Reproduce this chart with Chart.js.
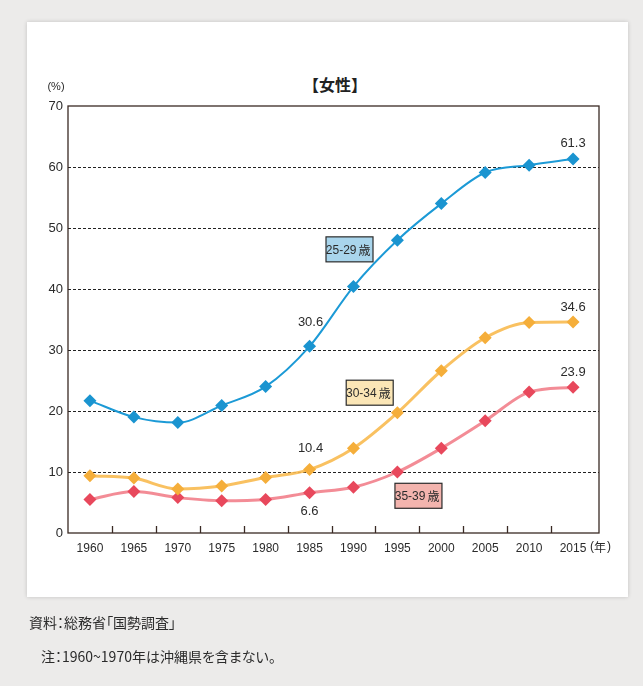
<!DOCTYPE html>
<html>
<head>
<meta charset="utf-8">
<script src="https://cdn.jsdelivr.net/npm/chart.js@4/dist/chart.umd.min.js"></script>
<style>
  body {
    margin: 0;
    width: 643px;
    height: 686px;
    overflow: hidden;
    background: #ecebea;
    font-family: "Noto Sans CJK JP", sans-serif;
    color: #2b2b2b;
  }
  #card {
    position: absolute;
    left: 27px;
    top: 22px;
    width: 601px;
    height: 575px;
    background: #fff;
    box-shadow: 0 0 4px rgba(0, 0, 0, 0.18);
  }
  #title {
    position: absolute;
    left: 0;
    width: 670px;
    top: 72px;
    text-align: center;
    font-size: 16px;
    font-weight: bold;
    color: #222;
  }
  #chart {
    position: absolute;
    left: 0;
    top: 0;
  }
  .note {
    position: absolute;
    font-size: 14px;
    color: #2b2b2b;
  }
</style>
</head>
<body>
<div id="card"></div>
<div id="title">【女性】</div>
<canvas id="chart" width="643" height="686"></canvas>
<div class="note" style="left:29px; top:612px; font-feature-settings:'palt';">資料：総務省「国勢調査」</div>
<div class="note" style="left:41px; top:646px; font-feature-settings:'palt';">注：1960~1970年は沖縄県を含まない。</div>

<script>
// unmarried rate of women by age group (%)
const years = ["1960", "1965", "1970", "1975", "1980", "1985", "1990", "1995", "2000", "2005", "2010", "2015"];
const age2529 = [21.7, 19.0, 18.1, 20.9, 24.0, 30.6, 40.4, 48.0, 54.0, 59.1, 60.3, 61.3];
const age3034 = [9.4, 9.0, 7.2, 7.7, 9.1, 10.4, 13.9, 19.7, 26.6, 32.0, 34.5, 34.6];
const age3539 = [5.5, 6.8, 5.8, 5.3, 5.5, 6.6, 7.5, 10.0, 13.9, 18.4, 23.1, 23.9];
const yTicks = [0, 10, 20, 30, 40, 50, 60, 70];

const numFont = "'Liberation Sans', Arial, sans-serif";
const jpFont = "'Noto Sans CJK JP', sans-serif";

// the frame runs a little past the last category
const frameExtra = 4;

// value labels: [dataset, point, dx, dy]
const valueLabels = [
  [0, 11, 0, -16],
  [0, 5, 1, -24],
  [1, 11, 0, -15],
  [1, 5, 1, -21],
  [2, 11, 0, -15],
  [2, 5, 0, 19]
];

// series name boxes placed in data coordinates (x = category index)
const seriesBoxes = [
  { text: "25-29 歳", x: 5.91, y: 46.5, fill: "#a9d5ec" },
  { text: "30-34 歳", x: 6.37, y: 23.0, fill: "#fbe6b6" },
  { text: "35-39 歳", x: 7.48, y: 6.1, fill: "#f3b4ae" }
];

const framePlugin = {
  id: "frame",
  beforeDatasetsDraw(chart) {
    const { ctx, chartArea: a, scales } = chart;
    const y = scales.y;
    const x = scales.x;
    const right = a.right + frameExtra;
    ctx.save();
    // dashed horizontal grid
    ctx.strokeStyle = "#222";
    ctx.lineWidth = 1;
    ctx.setLineDash([3, 2]);
    yTicks.forEach((v) => {
      if (v === 0 || v === 70) return;
      const py = Math.round(y.getPixelForValue(v)) + 0.5;
      ctx.beginPath();
      ctx.moveTo(a.left, py);
      ctx.lineTo(right, py);
      ctx.stroke();
    });
    ctx.setLineDash([]);
    // plot frame
    ctx.strokeStyle = "#3a2a24";
    ctx.lineWidth = 1.3;
    ctx.strokeRect(a.left, a.top, right - a.left, a.bottom - a.top);
    // short ticks between years, pointing inward
    for (let i = 0; i < years.length - 1; i++) {
      const px = Math.round((x.getPixelForValue(i) + x.getPixelForValue(i + 1)) / 2) + 0.5;
      ctx.beginPath();
      ctx.moveTo(px, a.bottom);
      ctx.lineTo(px, a.bottom - 7);
      ctx.stroke();
    }
    ctx.restore();
  },
  afterDatasetsDraw(chart) {
    const { ctx, chartArea: a, scales } = chart;
    ctx.save();
    ctx.textAlign = "center";
    ctx.textBaseline = "middle";
    ctx.fillStyle = "#2b2b2b";
    ctx.font = "13px " + numFont;
    valueLabels.forEach(([d, i, dx, dy]) => {
      const pt = chart.getDatasetMeta(d).data[i];
      const v = chart.data.datasets[d].data[i];
      ctx.fillText(v.toFixed(1), pt.x + dx, pt.y + dy);
    });

    // series name boxes
    seriesBoxes.forEach((b) => {
      const cx = scales.x.getPixelForValue(b.x);
      const cy = scales.y.getPixelForValue(b.y);
      const w = 47, h = 25;
      ctx.fillStyle = b.fill;
      ctx.fillRect(cx - w / 2, cy - h / 2, w, h);
      ctx.strokeStyle = "#2b2b2b";
      ctx.lineWidth = 1.2;
      ctx.strokeRect(cx - w / 2, cy - h / 2, w, h);
      const parts = b.text.split(" ");
      ctx.fillStyle = "#2b2b2b";
      ctx.font = "12px " + numFont;
      ctx.textAlign = "right";
      ctx.fillText(parts[0], cx + 7, cy + 1);
      ctx.font = "12px " + jpFont;
      ctx.textAlign = "left";
      ctx.fillText(parts[1], cx + 9, cy + 1);
      ctx.textAlign = "center";
    });

    // axis units
    ctx.fillStyle = "#2b2b2b";
    ctx.font = "11px " + numFont;
    ctx.fillText("(%)", a.left - 12, a.top - 19);
    const ux = a.right + frameExtra + 1;
    const uy = a.bottom + 14;
    ctx.font = "12px " + numFont;
    ctx.fillText("(", ux - 8, uy);
    ctx.fillText(")", ux + 9, uy);
    ctx.font = "12px " + jpFont;
    ctx.fillText("年", ux, uy);
    ctx.restore();
  }
};

function lineSet(label, data, line, point, width) {
  return {
    label: label,
    data: data,
    borderColor: line,
    borderWidth: width,
    backgroundColor: point,
    pointBackgroundColor: point,
    pointBorderWidth: 0,
    pointStyle: "rectRot",
    pointRadius: 6.5,
    cubicInterpolationMode: "monotone",
    fill: false
  };
}

new Chart(document.getElementById("chart"), {
  type: "line",
  data: {
    labels: years,
    datasets: [
      lineSet("25-29歳", age2529, "#1c9ad6", "#1a94d0", 2),
      lineSet("30-34歳", age3034, "rgba(248,186,80,0.9)", "#f5ae3a", 3),
      lineSet("35-39歳", age3539, "rgba(241,120,132,0.85)", "#e8485c", 3)
    ]
  },
  options: {
    responsive: false,
    animation: false,
    layout: { padding: { left: 0, top: 106, right: 44 + frameExtra, bottom: 0 } },
    plugins: {
      legend: { display: false },
      tooltip: { enabled: false }
    },
    scales: {
      x: {
        type: "category",
        offset: true,
        grid: { display: false, drawTicks: false },
        border: { display: false },
        ticks: {
          padding: 8,
          color: "#2b2b2b",
          font: { family: numFont, size: 12 },
          maxRotation: 0,
          autoSkip: false
        },
        afterFit: (s) => { s.height = 153; }
      },
      y: {
        min: 0,
        max: 70,
        grid: { display: false, drawTicks: false },
        border: { display: false },
        ticks: {
          stepSize: 10,
          padding: 5,
          color: "#2b2b2b",
          font: { family: numFont, size: 13 }
        },
        afterFit: (s) => { s.width = 68; }
      }
    }
  },
  plugins: [framePlugin]
});
</script>
</body>
</html>
